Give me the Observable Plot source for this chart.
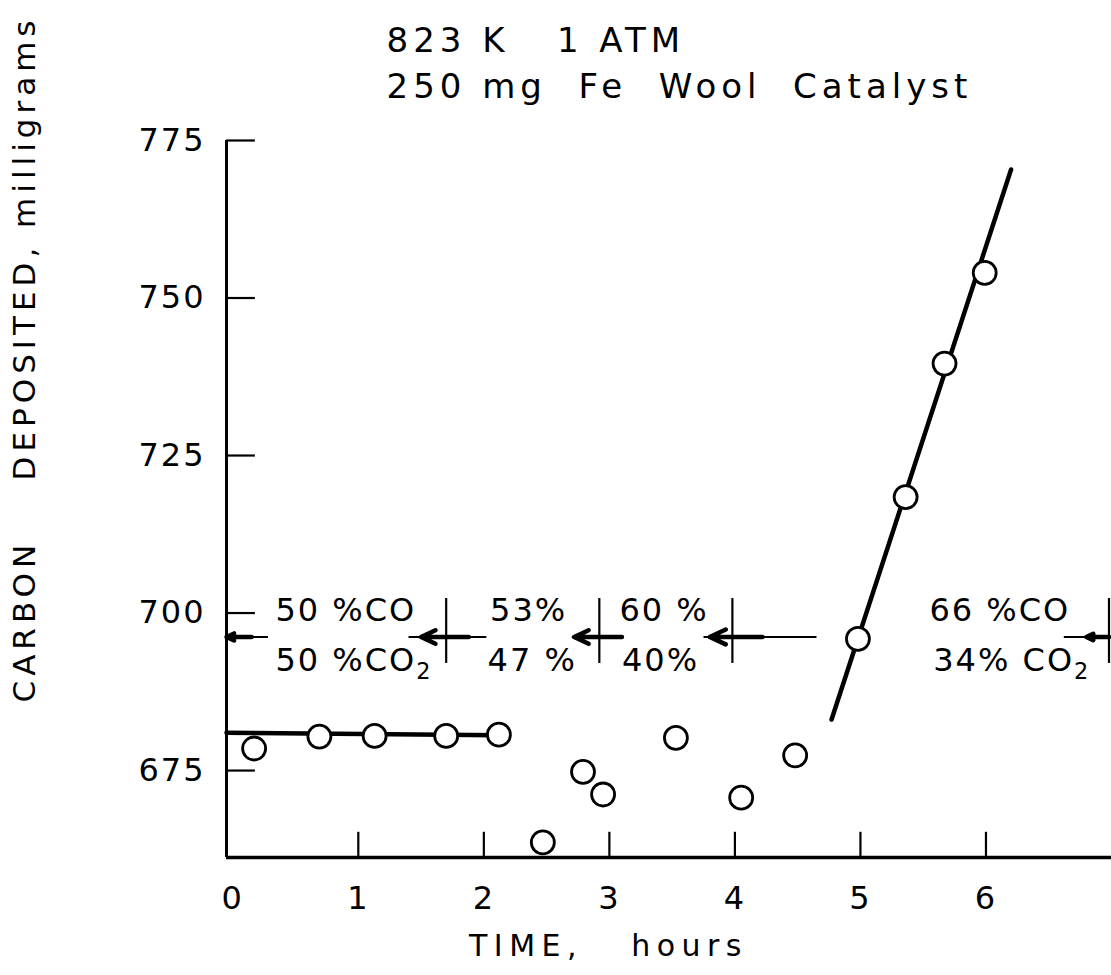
<!DOCTYPE html>
<html><head><meta charset="utf-8">
<script src="https://cdn.jsdelivr.net/npm/d3@7"></script>
<script src="https://cdn.jsdelivr.net/npm/@observablehq/plot@0.6"></script>
<style>
body{margin:0;background:#fff;}
svg text{white-space:pre;letter-spacing:2px;}
</style></head><body><div id="chart"></div>
<script>
// measured points: time (h) and carbon deposited (mg)
const times  = [0.17, 0.69, 1.13, 1.70, 2.12, 2.47, 2.79, 2.95, 3.53, 4.05, 4.48, 4.98, 5.36, 5.67, 5.99];
const carbon = [678.5, 680.4, 680.5, 680.5, 680.7, 663.6, 674.8, 671.2, 680.2, 670.7, 677.4, 695.9, 718.4, 739.6, 754.0];
// fitted lines
const plateauT = [-0.05, 2.12];
const plateauC = [681.0, 680.6];
const growthT = [4.77, 6.20];
const growthC = [683.1, 770.4];
// axes
const xTicks = [0, 1, 2, 3, 4, 5, 6];
const xMarks = [1, 2, 3, 4, 5, 6];
const yTicks = [675, 700, 725, 750, 775];
const xDomain = [-0.05, 7.0];
const yDomain = [661.2, 775];
// gas-composition switches
const switchTimes = [1.70, 2.92, 3.98, 6.98];
const switchLow = 692.0, switchHigh = 702.3, arrowLevel = 696.2;
const thinFrom = [-0.05, 1.40, 2.70, 3.75, 6.62];
const thinTo   = [ 0.28, 2.02, 3.10, 4.65, 6.98];
const thickFrom = [-0.05, 1.50, 2.72, 3.80, 6.80];
const thickTo   = [ 0.15, 1.88, 3.10, 4.22, 6.98];
const gasTop    = ["50 %CO", "53%", "60 %", "66 %CO"];
const gasBottom = ["50 %CO2", "47 %", "40%", "34% CO2"];
const gasTopT    = [0.34, 2.05, 3.08, 5.55];
const gasBottomT = [0.34, 2.03, 3.10, 5.58];
const gasTopC = 700.4, gasBottomC = 692.4;
const title1 = "823 K   1 ATM";
const title2 = "250 mg  Fe  Wool  Catalyst";
const xLabel = "TIME,   hours";
const yLabel = "CARBON    DEPOSITED, milligrams";

const pts = times.map((t, i) => ({t, c: carbon[i]}));
const plateau = plateauT.map((t, i) => ({t, c: plateauC[i]}));
const growth = growthT.map((t, i) => ({t, c: growthC[i]}));
const thin = thinFrom.map((a, i) => ({a, b: thinTo[i]}));
const thick = thickFrom.map((a, i) => ({a, b: thickTo[i]}));
const gasT = gasTop.map((s, i) => ({s, t: gasTopT[i]}));
const gasB = gasBottom.map((s, i) => ({s, t: gasBottomT[i]}));

const FONT = "DejaVu Sans";
const chart = Plot.plot({
  width: 1111, height: 975,
  marginLeft: 226, marginRight: 0, marginTop: 140, marginBottom: 118,
  x: {domain: xDomain, axis: null},
  y: {domain: yDomain, axis: null},
  style: {fontFamily: FONT, color: "black", background: "white"},
  marks: [
    // axes frame
    Plot.ruleX([xDomain[0]], {y1: yDomain[0], y2: yDomain[1], strokeWidth: 3}),
    Plot.ruleY([yDomain[0]], {x1: xDomain[0], x2: xDomain[1], strokeWidth: 3.5}),
    Plot.ruleY(yTicks, {x1: xDomain[0], x2: xDomain[0] + 0.23, strokeWidth: 2.2}),
    Plot.ruleX(xMarks, {y1: yDomain[0], y2: yDomain[0] + 4, strokeWidth: 2.2}),
    Plot.text(yTicks, {x: xDomain[0], y: d => d, text: d => String(d), dx: -21, textAnchor: "end", fontSize: 32}),
    Plot.text(xTicks, {x: d => d, y: yDomain[0], text: d => String(d), dy: 41, fontSize: 32}),
    // composition markers
    Plot.ruleX(switchTimes, {y1: switchLow, y2: switchHigh, strokeWidth: 2.2}),
    Plot.link(thin, {x1: "a", x2: "b", y1: arrowLevel, y2: arrowLevel, strokeWidth: 2}),
    Plot.arrow(thick, {x1: "b", x2: "a", y1: arrowLevel, y2: arrowLevel, strokeWidth: 4.5, headLength: 10, headAngle: 50}),
    Plot.text(gasT, {x: "t", y: gasTopC, text: "s", textAnchor: "start", fontSize: 32}),
    Plot.text(gasB, {x: "t", y: gasBottomC, text: "s", textAnchor: "start", fontSize: 32}),
    // fitted lines
    Plot.line(plateau, {x: "t", y: "c", strokeWidth: 4.5}),
    Plot.line(growth, {x: "t", y: "c", strokeWidth: 4.5}),
    // data points
    Plot.dot(pts, {x: "t", y: "c", r: 11.5, fill: "white", stroke: "black", strokeWidth: 2.8}),
    // titles and axis labels
    Plot.text([title1], {frameAnchor: "top-left", dx: 160, dy: -99, textAnchor: "start", lineAnchor: "middle", fontSize: 34}),
    Plot.text([title2], {frameAnchor: "top-left", dx: 160, dy: -53, textAnchor: "start", lineAnchor: "middle", fontSize: 34}),
    Plot.text([xLabel], {frameAnchor: "bottom-left", dx: 382, dy: 89, textAnchor: "middle", lineAnchor: "middle", fontSize: 30}),
    Plot.text([yLabel], {frameAnchor: "left", dx: -201, dy: -140, rotate: -90, textAnchor: "middle", lineAnchor: "middle", fontSize: 31})
  ]
});
// subscripts for CO2 and lettering spacing
d3.select(chart).selectAll("text").each(function() {
  const el = d3.select(this);
  const s = el.text();
  if (s === title1 || s === title2) el.style("letter-spacing", "5px");
  if (s === xLabel) el.style("letter-spacing", "6.5px");
  if (s === yLabel) el.style("letter-spacing", "5px");
  if (s.endsWith("CO2")) {
    el.text(s.slice(0, -1));
    el.append("tspan").attr("dy", "0.35em").attr("font-size", "0.7em").text("2");
  }
});
document.getElementById("chart").appendChild(chart);
</script></body></html>
